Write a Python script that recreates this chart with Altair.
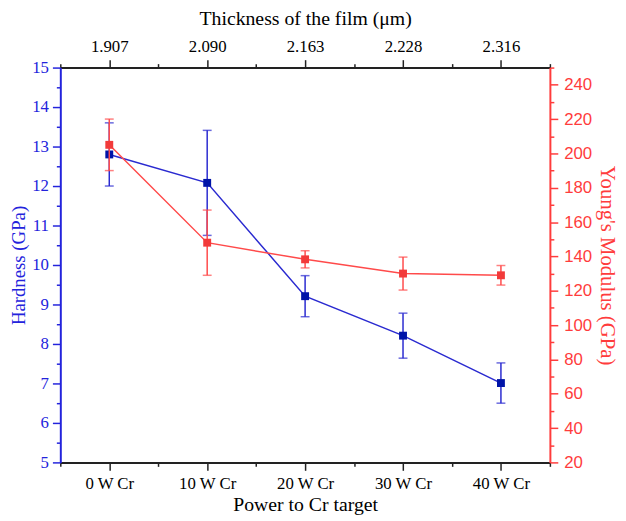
import altair as alt
import pandas as pd

power = ["0 W Cr", "10 W Cr", "20 W Cr", "30 W Cr", "40 W Cr"]
thickness = ["1.907", "2.090", "2.163", "2.228", "2.316"]
hardness = [12.8, 12.08, 9.21, 8.21, 7.01]
hardness_err = [0.8, 1.33, 0.52, 0.57, 0.51]
modulus = [205, 148, 138.3, 130, 129]
modulus_err = [15, 19, 5, 9.6, 5.7]

df = pd.DataFrame({
    "idx": list(range(len(power))),
    "power": power,
    "thickness": thickness,
    "h": hardness,
    "h_lo": [v - e for v, e in zip(hardness, hardness_err)],
    "h_hi": [v + e for v, e in zip(hardness, hardness_err)],
    "m": modulus,
    "m_lo": [v - e for v, e in zip(modulus, modulus_err)],
    "m_hi": [v + e for v, e in zip(modulus, modulus_err)],
})

SERIF = "Liberation Serif"
SANS = "Liberation Sans"
BLUE_AX = "#2323dc"
BLUE_LINE = "#2a2ad0"
BLUE_PT = "#0014a8"
RED_AX = "#ff3c3c"
RED_LINE = "#ff4a4a"
RED_PT = "#f23a3a"

xvals = [i / 2 for i in range(-1, 10)]
xdom = [-0.5, 4.5]
half_ticks = {"condition": {"test": "datum.value % 1 == 0", "value": 8}, "value": 4}


def cat_expr(labels):
    expr = "''"
    for i in reversed(range(len(labels))):
        expr = f"datum.value == {i} ? '{labels[i]}' : ({expr})"
    return expr


bottom_axis = alt.Axis(
    orient="bottom", values=xvals, grid=False, labelExpr=cat_expr(power),
    title="Power to Cr target", titleFont=SERIF, titleFontSize=20, titleFontWeight="normal",
    titleColor="black", labelFont=SERIF, labelFontSize=17, labelColor="black",
    domainColor="#222222", domainWidth=2, tickColor="#222222", tickWidth=1.5, tickSize=half_ticks,
    labelPadding=5, titlePadding=4,
)
top_axis = alt.Axis(
    orient="top", values=xvals, grid=False, labelExpr=cat_expr(thickness),
    title="Thickness of the film (μm)", titleFont=SERIF, titleFontSize=20, titleFontWeight="normal",
    titleColor="black", labelFont=SERIF, labelFontSize=17, labelColor="black",
    domainColor="#222222", domainWidth=2, tickColor="#222222", tickWidth=1.5, tickSize=half_ticks,
    labelPadding=4, titlePadding=10,
)
left_axis = alt.Axis(
    orient="left", values=[5 + i / 2 for i in range(21)], grid=False,
    labelExpr="datum.value % 1 == 0 ? format(datum.value, 'd') : ''",
    title="Hardness (GPa)", titleFont=SERIF, titleFontSize=19, titleFontWeight="normal",
    titleColor=BLUE_AX, labelFont=SERIF, labelFontSize=17, labelColor=BLUE_AX,
    domainColor=BLUE_AX, domainWidth=2, tickColor=BLUE_AX, tickWidth=1.5, tickSize=half_ticks,
    labelPadding=4, titlePadding=3,
)
right_axis = alt.Axis(
    orient="right", values=list(range(20, 251, 10)), grid=False,
    labelExpr="datum.value % 20 == 0 && datum.value < 250 ? format(datum.value, 'd') : ''",
    title="Young's Modulus (GPa)", titleFont=SERIF, titleFontSize=21, titleFontWeight="normal",
    titleColor=RED_AX, labelFont=SANS, labelFontSize=17, labelColor=RED_AX,
    domainColor=RED_AX, domainWidth=2, tickColor=RED_AX, tickWidth=1.5,
    tickSize={"condition": {"test": "datum.value % 20 == 0", "value": 8}, "value": 4},
    labelPadding=6, titlePadding=5,
)

base = alt.Chart(df)


def xenc(axis):
    return alt.X("idx:Q", scale=alt.Scale(domain=xdom, nice=False, zero=False), axis=axis)


def henc(field, axis=None):
    return alt.Y(field, type="quantitative", scale=alt.Scale(domain=[5, 15], nice=False, zero=False), axis=axis)


def menc(field, axis=None):
    return alt.Y(field, type="quantitative", scale=alt.Scale(domain=[20, 250], nice=False, zero=False), axis=axis)


layers = [
    base.mark_rule(color=BLUE_LINE, strokeWidth=1.5).encode(
        x=xenc(bottom_axis), y=henc("h_lo", left_axis), y2="h_hi:Q"),
    base.mark_tick(color=BLUE_LINE, orient="horizontal", size=9, thickness=1.5).encode(
        x=xenc(None), y=henc("h_lo")),
    base.mark_tick(color=BLUE_LINE, orient="horizontal", size=9, thickness=1.5).encode(
        x=xenc(None), y=henc("h_hi")),
    base.mark_line(color=BLUE_LINE, strokeWidth=1.5).encode(x=xenc(None), y=henc("h")),
    base.mark_point(shape="square", filled=True, size=64, color=BLUE_PT, opacity=1).encode(
        x=xenc(None), y=henc("h")),
    base.mark_rule(color=RED_LINE, strokeWidth=1.5).encode(
        x=xenc(top_axis), y=menc("m_lo", right_axis), y2="m_hi:Q"),
    base.mark_tick(color=RED_LINE, orient="horizontal", size=9, thickness=1.5).encode(
        x=xenc(None), y=menc("m_lo")),
    base.mark_tick(color=RED_LINE, orient="horizontal", size=9, thickness=1.5).encode(
        x=xenc(None), y=menc("m_hi")),
    base.mark_line(color=RED_LINE, strokeWidth=1.5).encode(x=xenc(None), y=menc("m")),
    base.mark_point(shape="square", filled=True, size=64, color=RED_PT, opacity=1).encode(
        x=xenc(None), y=menc("m")),
]

chart = alt.layer(*layers).resolve_scale(x="independent", y="independent").properties(
    width=496, height=400, background="white",
    autosize=alt.AutoSizeParams(type="none"),
    padding={"left": 53, "top": 57, "right": 69, "bottom": 56},
).configure_view(stroke=None)

chart.save("out.html", embed_options={"renderer": "svg", "actions": False})
